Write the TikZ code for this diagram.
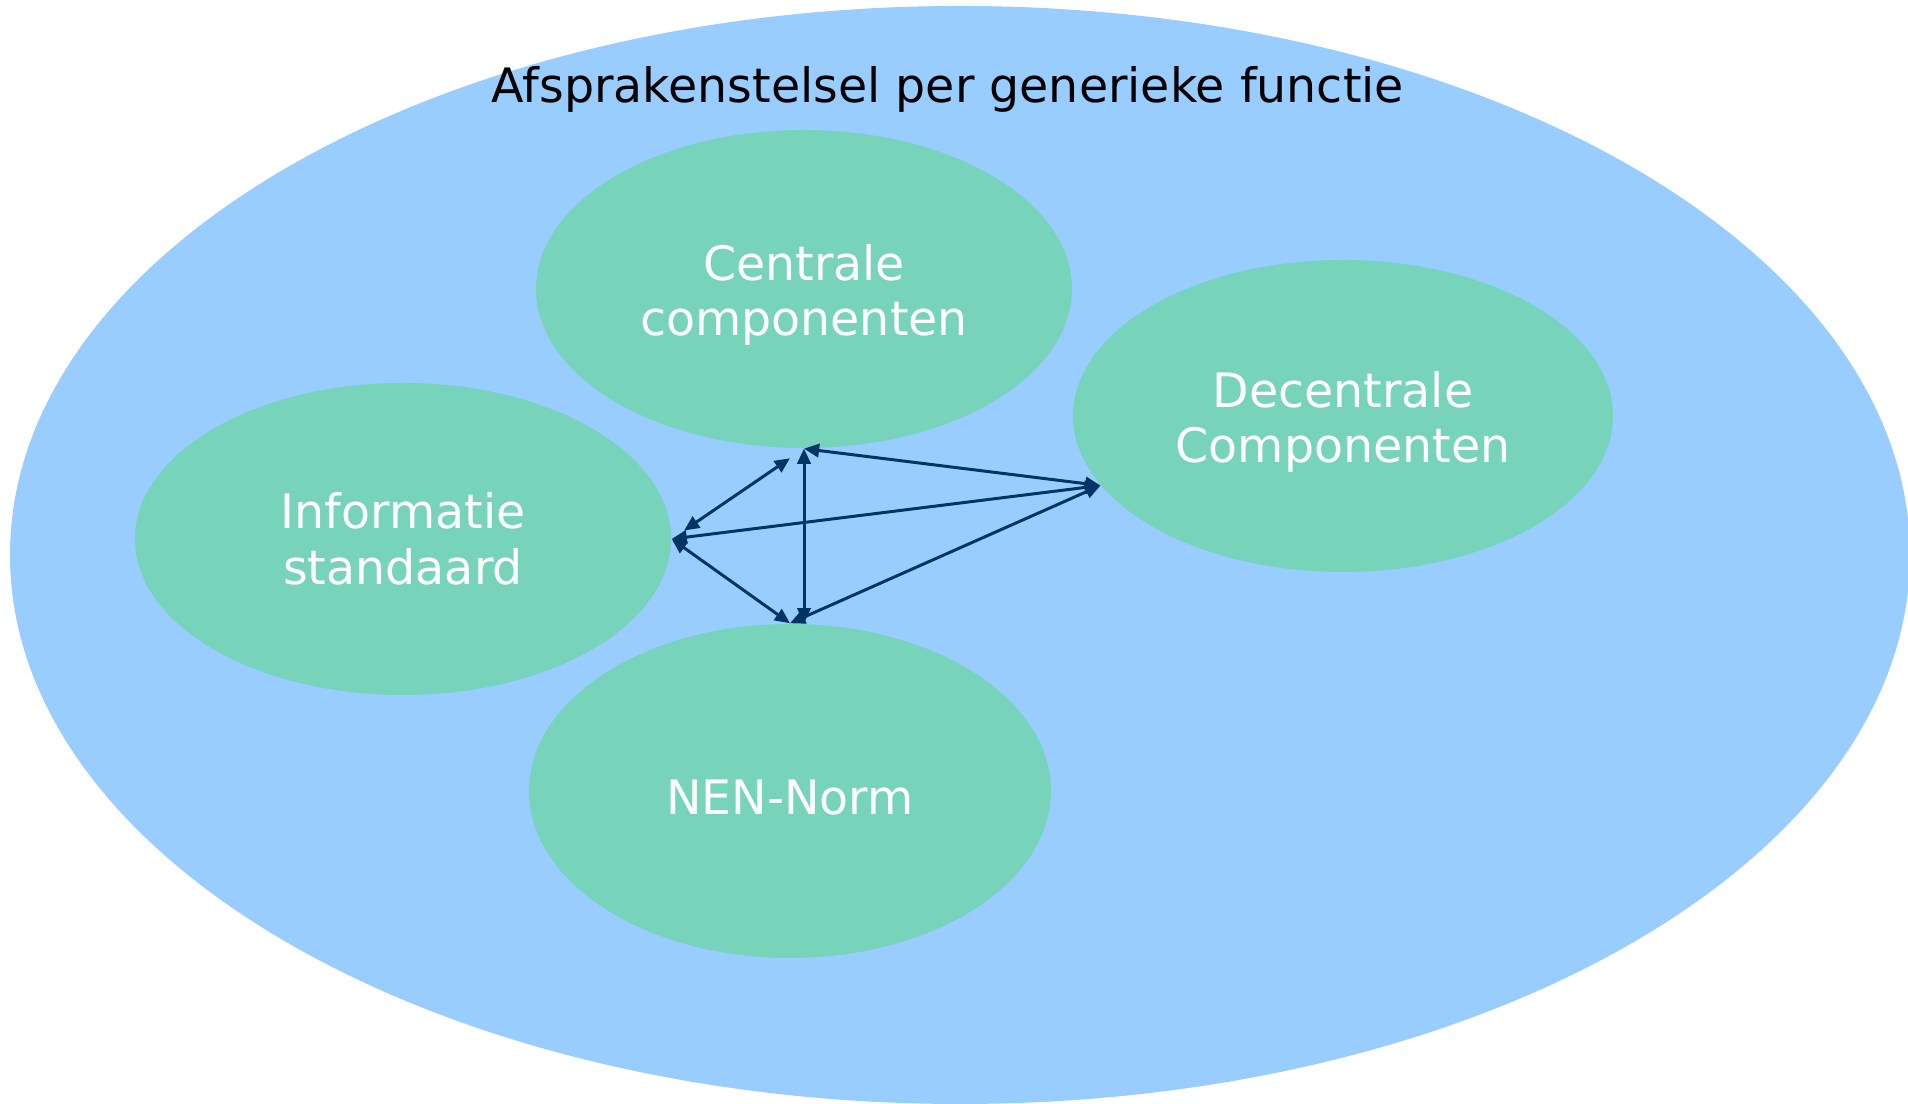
\documentclass[tikz,border=0pt]{standalone}
\usepackage{fontspec}
\setmainfont{DejaVu Sans}
\usetikzlibrary{shapes.geometric,arrows.meta}
\definecolor{lichtblauw}{RGB}{153,204,255}
\definecolor{groen}{RGB}{119,211,185}
\definecolor{donkerblauw}{RGB}{0,51,102}
\newcommand{\opvul}{\rule{0pt}{0.48cm}}
\begin{document}
\begin{tikzpicture}[font=\fontsize{13.5pt}{15.9pt}\selectfont, line join=round, line cap=round, >={Triangle[length=4.3pt,width=3.8pt]},
	blok/.style={ellipse, fill=groen, text=white, align=center, inner sep=0pt},
	pijl/.style={<->, donkerblauw, line width=0.85pt}]
	\useasboundingbox (0,0) rectangle (19.08,11.04);
	\fill[lichtblauw] (9.6,5.49) ellipse [x radius=9.5, y radius=5.49];
	\node[anchor=base] (titel) at (9.48,10.01) {Afsprakenstelsel per generieke functie};
	\node[blok, minimum width=5.36cm, minimum height=3.18cm] (cen) at (8.04,8.15) {\opvul Centrale\\componenten};
	\node[blok, minimum width=5.40cm, minimum height=3.12cm] (dec) at (13.43,6.88) {\opvul Decentrale\\Componenten};
	\node[blok, minimum width=5.36cm, minimum height=3.12cm] (inf) at (4.03,5.65) {Informatie\\standaard};
	\node[blok, minimum width=5.22cm, minimum height=3.34cm] (nen) at (7.90,3.13) {\opvul NEN-Norm};
	\draw[pijl, shorten <=0.17cm, shorten >=0.15cm] (cen.south) -- (inf.east);
	\draw[pijl] (cen.south) -- (cen.south |- nen.north);
	\foreach \a/\b in {cen.south/dec.196, inf.east/dec.196, inf.east/nen.north, dec.196/nen.north}
	\draw[pijl] (\a) -- (\b);
\end{tikzpicture}
\end{document}
